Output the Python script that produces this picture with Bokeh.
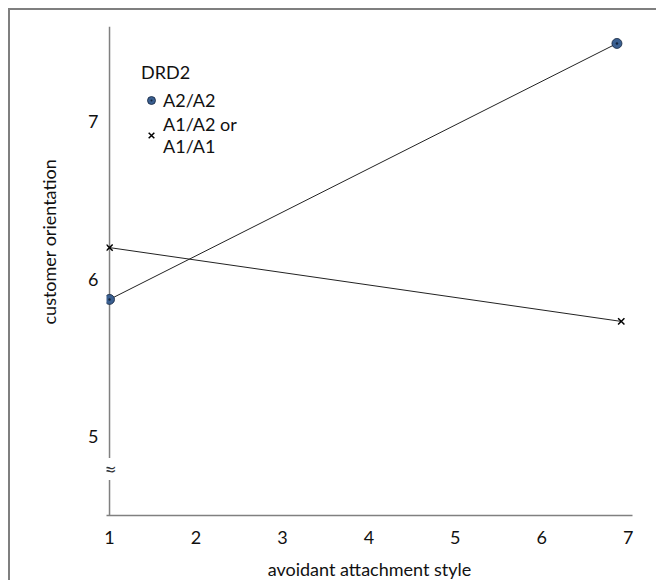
from bokeh.plotting import figure
from bokeh.models import Range1d, FixedTicker, Legend, LegendItem, Label, Title
from bokeh.embed import file_html
from bokeh.resources import INLINE

# ---- data ----
x_ticks = [1, 2, 3, 4, 5, 6, 7]
y_ticks = [5, 6, 7]
a2_x = [1, 6.87]          # DRD2 A2/A2
a2_y = [5.87, 7.50]
a1_x = [1, 6.92]          # DRD2 A1/A2 or A1/A1
a1_y = [6.20, 5.73]
x_label = "avoidant attachment style"
y_label = "customer orientation"
legend_title = "DRD2"
legend_labels = ["A2/A2", "A1/A2 or\nA1/A1"]

FONT = "Lato"
AX = "#808080"
TXT = "#111111"

p = figure(width=648, height=572, output_backend="svg", toolbar_location=None,
           x_range=Range1d(0.965, 7.05), y_range=Range1d(4.494, 7.608),
           min_border_left=96, min_border_right=26, min_border_top=16,
           min_border_bottom=64)
p.styles = {"margin-left": "8px", "margin-top": "8px",
            "border-left": "2px solid #7f7f7f", "border-top": "2px solid #7f7f7f"}
p.outline_line_color = None
p.grid.grid_line_color = None

# x axis
p.xaxis.ticker = FixedTicker(ticks=x_ticks)
p.xaxis.axis_line_color = AX
p.xaxis.axis_line_width = 1.5
p.xaxis.major_tick_line_color = None
p.xaxis.minor_tick_line_color = None
p.xaxis.major_label_standoff = 9
p.xaxis.major_label_text_font = FONT
p.xaxis.major_label_text_font_size = "18px"
p.xaxis.major_label_text_color = TXT
p.xaxis.axis_label = x_label
p.xaxis.axis_label_text_font = FONT
p.xaxis.axis_label_text_font_size = "18px"
p.xaxis.axis_label_text_font_style = "normal"
p.xaxis.axis_label_text_color = TXT
p.xaxis.axis_label_standoff = 11

# y axis (labels only; the broken axis line is drawn at x = 1)
p.yaxis.ticker = FixedTicker(ticks=y_ticks)
p.yaxis.axis_line_color = None
p.yaxis.major_tick_line_color = None
p.yaxis.minor_tick_line_color = None
p.yaxis.major_label_standoff = 2
p.yaxis.major_label_text_font = FONT
p.yaxis.major_label_text_font_size = "18px"
p.yaxis.major_label_text_color = TXT

# y axis title, placed on the left side
p.add_layout(Title(text=y_label, align="left", offset=191, vertical_align="middle",
                   text_font=FONT, text_font_size="18px", text_font_style="normal",
                   text_color=TXT, standoff=50), "left")

brk_hi, brk_lo = 4.86, 4.72
p.segment(x0=[1, 1], y0=[p.y_range.end, brk_lo], x1=[1, 1], y1=[brk_hi, p.y_range.start],
          line_color=AX, line_width=1.5)
p.add_layout(Label(x=1, y=(brk_hi + brk_lo) / 2, text="≈", text_align="center",
                   text_baseline="middle", text_font="DejaVu Sans", text_font_size="17px",
                   text_color="#333333"))

# series
p.line(a2_x, a2_y, line_color="#222222", line_width=1)
p.line(a1_x, a1_y, line_color="#222222", line_width=1)
c1 = p.scatter(a2_x, a2_y, marker="circle_dot", size=10, fill_color="#3a5f90",
               line_color="#14253d", line_width=0.8)
xm = p.scatter(a1_x, a1_y, marker="x", size=9, line_color="black", line_width=1.5)

legend = Legend(items=[LegendItem(label=legend_labels[0], renderers=[c1]),
                       LegendItem(label=legend_labels[1], renderers=[xm])],
                location="top_left", title=legend_title)
legend.margin = 35
legend.padding = 0
legend.spacing = 1
legend.border_line_color = None
legend.background_fill_alpha = 0
legend.glyph_width = 20
legend.glyph_height = 20
legend.label_height = 25
legend.label_standoff = 2
legend.label_text_font = FONT
legend.label_text_font_size = "18px"
legend.label_text_color = TXT
legend.title_text_font = FONT
legend.title_text_font_size = "18px"
legend.title_text_font_style = "normal"
legend.title_text_color = TXT
legend.title_standoff = 4
p.add_layout(legend)

open("out.html", "w").write(file_html(p, INLINE))
